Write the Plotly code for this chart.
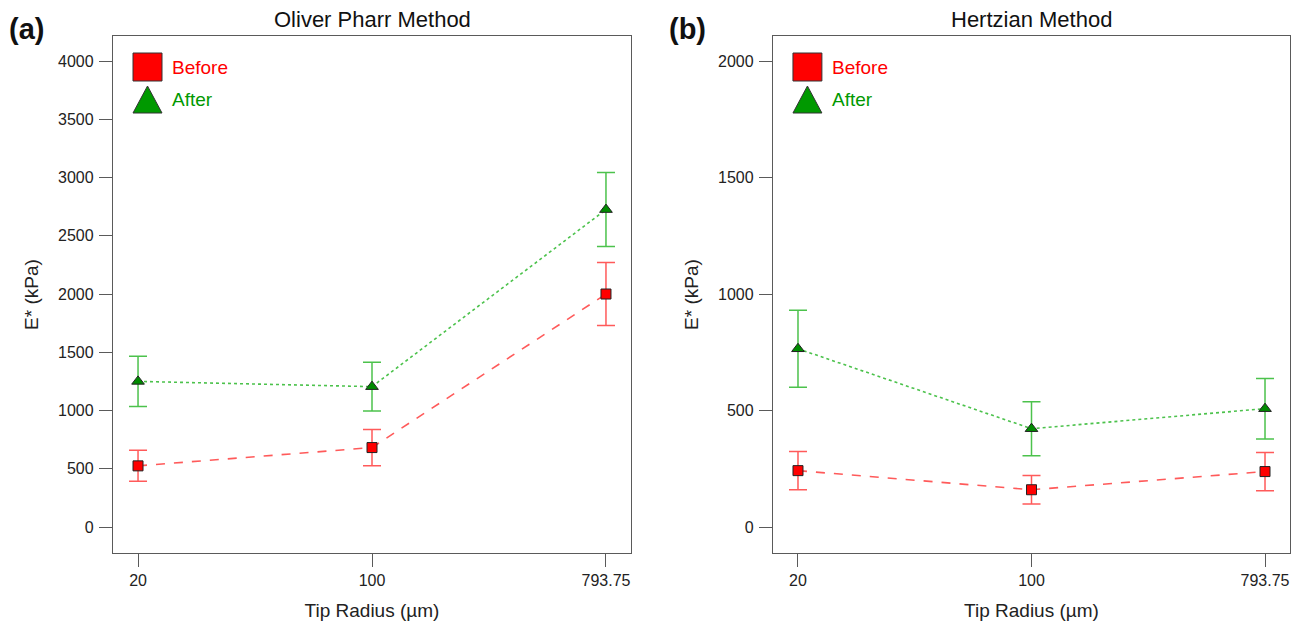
import plotly.graph_objects as go

categories = ["20", "100", "793.75"]

op_before = [525, 682, 2000]
op_before_err = [133, 155, 270]
op_after = [1250, 1205, 2725]
op_after_err = [215, 210, 318]

hz_before = [242, 160, 238]
hz_before_err = [82, 61, 82]
hz_after = [765, 422, 508]
hz_after_err = [165, 116, 130]

titles = ["Oliver Pharr Method", "Hertzian Method"]
panel_labels = ["(a)", "(b)"]
y_ticks_a = [0, 500, 1000, 1500, 2000, 2500, 3000, 3500, 4000]
y_ticks_b = [0, 500, 1000, 1500, 2000]

RED = "#FF0000"
RED_LINE = "#FF5A5A"
GREEN = "#008C00"
GREEN_LINE = "#4CC24C"
AX = "#5a5a5a"
FONT = "Liberation Sans, Arial, sans-serif"

W, H = 1303, 631
fig = go.Figure()

def add_series(xa, ya, y, err, mcolor, lcolor, dash, symbol, size):
    fig.add_trace(go.Scatter(
        x=categories, y=y, xaxis=xa, yaxis=ya, mode="lines+markers",
        line=dict(color=lcolor, width=1.6, dash=dash),
        marker=dict(symbol=symbol, size=size, color=mcolor,
                    line=dict(color="#222222", width=1)),
        error_y=dict(type="data", array=err, visible=True, color=lcolor,
                     thickness=1.5, width=9),
        showlegend=False, hoverinfo="skip"))

add_series("x", "y", op_before, op_before_err, RED, RED_LINE, "dash", "square", 10)
add_series("x", "y", op_after, op_after_err, GREEN, GREEN_LINE, "dot", "triangle-up", 11)
add_series("x2", "y2", hz_before, hz_before_err, RED, RED_LINE, "dash", "square", 10)
add_series("x2", "y2", hz_after, hz_after_err, GREEN, GREEN_LINE, "dot", "triangle-up", 11)

xdom_a = [113 / W, 631 / W]
xdom_b = [773 / W, 1290 / W]
ydom = [1 - 553 / H, 1 - 36 / H]

axcommon = dict(showline=True, linecolor=AX, linewidth=1.3, mirror=True,
                ticks="outside", tickcolor=AX, tickwidth=1.2, ticklen=13,
                showgrid=False, zeroline=False,
                tickfont=dict(size=16, color="#222222", family=FONT))

xt = dict(text="Tip Radius (µm)", font=dict(size=19, color="#222222"), standoff=15)
yt = dict(text="E* (kPa)", font=dict(size=19, color="#222222"), standoff=14)

fig.update_layout(
    width=W, height=H, margin=dict(l=0, r=0, t=0, b=0),
    paper_bgcolor="white", plot_bgcolor="white",
    font=dict(family=FONT, color="#222222"),
    xaxis=dict(domain=xdom_a, anchor="y", type="category", range=[-0.107, 2.107],
               title=xt, **axcommon),
    yaxis=dict(domain=ydom, anchor="x", range=[-223, 4215], tickvals=y_ticks_a,
               ticklabelstandoff=2, title=yt, **axcommon),
    xaxis2=dict(domain=xdom_b, anchor="y2", type="category", range=[-0.107, 2.107],
                title=xt, **axcommon),
    yaxis2=dict(domain=ydom, anchor="x2", range=[-111.5, 2107.5], tickvals=y_ticks_b,
                ticklabelstandoff=2, title=yt, **axcommon),
)

annotations = []
shapes = []
for i, (xd, title, lab) in enumerate(zip([xdom_a, xdom_b], titles, panel_labels)):
    xr = "x domain" if i == 0 else "x2 domain"
    yr = "y domain" if i == 0 else "y2 domain"
    annotations.append(dict(text=title, x=(xd[0] + xd[1]) / 2, y=1 - 19 / H,
                            xref="paper", yref="paper", showarrow=False,
                            font=dict(size=22, color="#111111"), xanchor="center", yanchor="middle"))
    annotations.append(dict(text="<b>" + lab + "</b>", x=xd[0] - 106 / W, y=1 - 29 / H,
                            xref="paper", yref="paper", showarrow=False,
                            font=dict(size=29, color="#111111"), xanchor="left", yanchor="middle"))
    # legend symbols
    x0 = 20 / 518
    x1 = 49 / 518
    shapes.append(dict(type="rect", xref=xr, yref=yr, x0=x0, x1=x1,
                       y0=1 - 45 / 517, y1=1 - 17 / 517,
                       fillcolor=RED, line=dict(color="#333333", width=1)))
    ty0 = 1 - 77 / 517
    ty1 = 1 - 50 / 517
    shapes.append(dict(type="path", xref=xr, yref=yr,
                       path=f"M {x0} {ty0} L {x1} {ty0} L {(x0 + x1) / 2} {ty1} Z",
                       fillcolor="#009900", line=dict(color="#333333", width=1)))
    annotations.append(dict(text="Before", x=57 / 518, y=1 - 31 / 517, xref=xr, yref=yr,
                            showarrow=False, xanchor="left", yanchor="middle",
                            font=dict(size=19, color=RED)))
    annotations.append(dict(text="After", x=57 / 518, y=1 - 63 / 517, xref=xr, yref=yr,
                            showarrow=False, xanchor="left", yanchor="middle",
                            font=dict(size=19, color="#009900")))

fig.update_layout(annotations=annotations, shapes=shapes)
fig.write_html("out.html")
